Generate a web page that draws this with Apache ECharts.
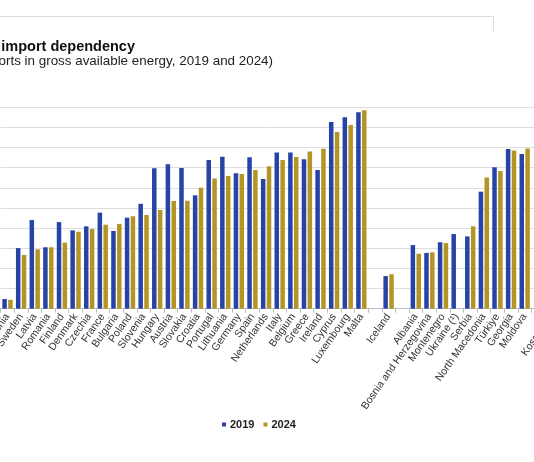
<!DOCTYPE html>
<html>
<head>
<meta charset="utf-8">
<script src="https://cdn.jsdelivr.net/npm/echarts@6/dist/echarts.min.js"></script>
<style>
  html, body { margin: 0; padding: 0; background: #fff; }
  #chart { width: 534px; height: 462px; }
</style>
</head>
<body>
<div id="chart"></div>
<script>
// countries in chart order, '' = spacer column
const countries = [
  'Estonia', 'Sweden', 'Latvia', 'Romania', 'Finland', 'Denmark', 'Czechia', 'France',
  'Bulgaria', 'Poland', 'Slovenia', 'Hungary', 'Austria', 'Slovakia', 'Croatia', 'Portugal',
  'Lithuania', 'Germany', 'Spain', 'Netherlands', 'Italy', 'Belgium', 'Greece', 'Ireland',
  'Cyprus', 'Luxembourg', 'Malta', '', 'Iceland', '', 'Albania', 'Bosnia and Herzegovina',
  'Montenegro', 'Ukraine (¹)', 'Serbia', 'North Macedonia', 'Türkiye', 'Georgia', 'Moldova', '',
  'Kosovo (*)'
];

// % share of net imports in gross available energy
const values2019 = [
  4.8, 30.1, 44.0, 30.5, 43.0, 38.9, 40.9, 47.7,
  38.6, 45.2, 52.1, 69.7, 71.7, 69.9, 56.3, 73.8,
  75.5, 67.2, 75.2, 64.4, 77.6, 77.6, 74.2, 68.9,
  92.7, 95.0, 97.5, null, 16.2, null, 31.6, 27.7,
  33.0, 37.1, 35.9, 58.1, 70.2, 79.3, 76.8, null,
  null
];
const values2024 = [
  4.4, 26.7, 29.5, 30.5, 32.8, 38.2, 39.6, 41.7,
  42.1, 45.9, 46.5, 49.0, 53.5, 53.6, 60.1, 64.7,
  65.9, 66.9, 68.9, 70.7, 73.8, 75.3, 78.0, 79.4,
  87.7, 91.2, 98.5, null, 17.1, null, 27.3, 28.0,
  32.6, null, 40.9, 65.2, 68.4, 78.6, 79.6, null,
  null
];

const seriesNames = ['2019', '2024'];
const seriesColors = ['#2743a6', '#b39526'];

const chart = echarts.init(document.getElementById('chart'));

const option = {
  animation: false,
  textStyle: { fontFamily: 'Liberation Sans, Arial, sans-serif' },
  graphic: [
    {
      type: 'polyline',
      shape: { points: [[0, 16.5], [493.5, 16.5], [493.5, 31]] },
      style: { stroke: '#dcdcdc', lineWidth: 1, fill: null }
    },
    {
      type: 'text', x: 135, y: 46.5, silent: true,
      style: {
        text: 'Energy import dependency', align: 'right', verticalAlign: 'middle',
        font: 'bold 14.5px "Liberation Sans", Arial, sans-serif', fill: '#111'
      }
    },
    {
      type: 'text', x: 273, y: 61.5, silent: true,
      style: {
        text: '(% share of net imports in gross available energy, 2019 and 2024)',
        align: 'right', verticalAlign: 'middle',
        font: '13.4px "Liberation Sans", Arial, sans-serif', fill: '#222'
      }
    }
  ],
  legend: {
    data: seriesNames,
    left: 222, top: 419,
    padding: 0,
    itemWidth: 4, itemHeight: 4, itemGap: 9,
    icon: 'rect',
    textStyle: { fontSize: 11, fontWeight: 'bold', color: '#222', padding: [0, 0, 0, -1] }
  },
  grid: {
    left: 0.7, right: -24.7, top: 107.3, bottom: 153.3,
    containLabel: false, outerBoundsMode: 'none'
  },
  xAxis: {
    type: 'category',
    data: countries,
    axisLine: { lineStyle: { color: '#bdbdbd' } },
    axisTick: { show: true, length: 4, lineStyle: { color: '#bdbdbd' } },
    axisLabel: {
      interval: 0, rotate: 55, margin: 6,
      fontSize: 10.5, color: '#333'
    }
  },
  yAxis: {
    type: 'value',
    min: 0, max: 100, interval: 10,
    axisLabel: { show: false },
    axisLine: { show: false },
    axisTick: { show: false },
    splitLine: { lineStyle: { color: '#dedede' } }
  },
  series: [
    {
      name: seriesNames[0], type: 'bar', data: values2019,
      barWidth: 4.5, barGap: '30%',
      itemStyle: { color: seriesColors[0] }
    },
    {
      name: seriesNames[1], type: 'bar', data: values2024,
      barWidth: 4.5,
      itemStyle: { color: seriesColors[1] }
    }
  ]
};

chart.setOption(option);
</script>
</body>
</html>
